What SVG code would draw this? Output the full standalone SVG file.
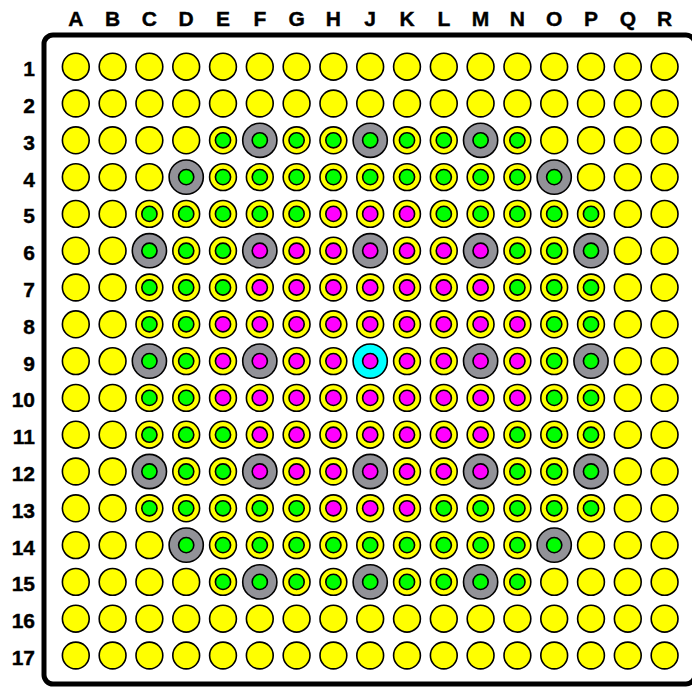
<svg xmlns="http://www.w3.org/2000/svg" xmlns:xlink="http://www.w3.org/1999/xlink" width="692" height="687" viewBox="0 0 692 687">
<style>
.lbl{font-family:"Liberation Sans",Arial,sans-serif;font-weight:bold;font-size:21px;fill:#000;stroke:#000;stroke-width:0.4}
.col{text-anchor:middle}
.row{text-anchor:end}
.ol{stroke:#000;stroke-width:1.6}
</style>
<defs>
<g id="y"><circle class="ol" r="13.4" fill="#ffff00"/></g>
<g id="g"><circle class="ol" r="13.4" fill="#ffff00"/><circle class="ol" r="7.6" fill="#00ff00"/></g>
<g id="m"><circle class="ol" r="13.4" fill="#ffff00"/><circle class="ol" r="7.6" fill="#ff00ff"/></g>
<g id="G"><circle class="ol" r="17.1" fill="#929298"/><circle class="ol" r="7.6" fill="#00ff00"/></g>
<g id="M"><circle class="ol" r="17.1" fill="#929298"/><circle class="ol" r="7.6" fill="#ff00ff"/></g>
<g id="C"><circle class="ol" r="17.1" fill="#00ffff"/><circle class="ol" r="7.6" fill="#ff00ff"/></g>
</defs>
<rect width="692" height="687" fill="#fff"/>
<rect x="44" y="35" width="651" height="649" rx="9" ry="9" fill="none" stroke="#000" stroke-width="5"/>
<g id="col-labels" class="lbl col">
<text x="75.8" y="26">A</text><text x="112.6" y="26">B</text><text x="149.4" y="26">C</text><text x="186.2" y="26">D</text><text x="223" y="26">E</text><text x="259.8" y="26">F</text><text x="296.6" y="26">G</text><text x="333.4" y="26">H</text><text x="370.2" y="26">J</text><text x="407" y="26">K</text><text x="443.8" y="26">L</text><text x="480.6" y="26">M</text><text x="517.4" y="26">N</text><text x="554.2" y="26">O</text><text x="591" y="26">P</text><text x="627.8" y="26">Q</text><text x="664.6" y="26">R</text>
</g>
<g id="row-labels" class="lbl row">
<text x="35" y="76.2">1</text><text x="35" y="113">2</text><text x="35" y="149.8">3</text><text x="35" y="186.6">4</text><text x="35" y="223.4">5</text><text x="35" y="260.2">6</text><text x="35" y="297">7</text><text x="35" y="333.8">8</text><text x="35" y="370.6">9</text><text x="35" y="407.4">10</text><text x="35" y="444.2">11</text><text x="35" y="481">12</text><text x="35" y="517.8">13</text><text x="35" y="554.6">14</text><text x="35" y="591.4">15</text><text x="35" y="628.2">16</text><text x="35" y="665">17</text>
</g>
<g id="connectors"/>
<g id="wells">
<g id="A1"><use href="#y" x="75.8" y="66.7"/></g><g id="B1"><use href="#y" x="112.6" y="66.7"/></g><g id="C1"><use href="#y" x="149.4" y="66.7"/></g><g id="D1"><use href="#y" x="186.2" y="66.7"/></g><g id="E1"><use href="#y" x="223" y="66.7"/></g><g id="F1"><use href="#y" x="259.8" y="66.7"/></g><g id="G1"><use href="#y" x="296.6" y="66.7"/></g><g id="H1"><use href="#y" x="333.4" y="66.7"/></g><g id="J1"><use href="#y" x="370.2" y="66.7"/></g><g id="K1"><use href="#y" x="407" y="66.7"/></g><g id="L1"><use href="#y" x="443.8" y="66.7"/></g><g id="M1"><use href="#y" x="480.6" y="66.7"/></g><g id="N1"><use href="#y" x="517.4" y="66.7"/></g><g id="O1"><use href="#y" x="554.2" y="66.7"/></g><g id="P1"><use href="#y" x="591" y="66.7"/></g><g id="Q1"><use href="#y" x="627.8" y="66.7"/></g><g id="R1"><use href="#y" x="664.6" y="66.7"/></g>
<g id="A2"><use href="#y" x="75.8" y="103.5"/></g><g id="B2"><use href="#y" x="112.6" y="103.5"/></g><g id="C2"><use href="#y" x="149.4" y="103.5"/></g><g id="D2"><use href="#y" x="186.2" y="103.5"/></g><g id="E2"><use href="#y" x="223" y="103.5"/></g><g id="F2"><use href="#y" x="259.8" y="103.5"/></g><g id="G2"><use href="#y" x="296.6" y="103.5"/></g><g id="H2"><use href="#y" x="333.4" y="103.5"/></g><g id="J2"><use href="#y" x="370.2" y="103.5"/></g><g id="K2"><use href="#y" x="407" y="103.5"/></g><g id="L2"><use href="#y" x="443.8" y="103.5"/></g><g id="M2"><use href="#y" x="480.6" y="103.5"/></g><g id="N2"><use href="#y" x="517.4" y="103.5"/></g><g id="O2"><use href="#y" x="554.2" y="103.5"/></g><g id="P2"><use href="#y" x="591" y="103.5"/></g><g id="Q2"><use href="#y" x="627.8" y="103.5"/></g><g id="R2"><use href="#y" x="664.6" y="103.5"/></g>
<g id="A3"><use href="#y" x="75.8" y="140.3"/></g><g id="B3"><use href="#y" x="112.6" y="140.3"/></g><g id="C3"><use href="#y" x="149.4" y="140.3"/></g><g id="D3"><use href="#y" x="186.2" y="140.3"/></g><g id="E3"><use href="#g" x="223" y="140.3"/></g><g id="F3"><use href="#G" x="259.8" y="140.3"/></g><g id="G3"><use href="#g" x="296.6" y="140.3"/></g><g id="H3"><use href="#g" x="333.4" y="140.3"/></g><g id="J3"><use href="#G" x="370.2" y="140.3"/></g><g id="K3"><use href="#g" x="407" y="140.3"/></g><g id="L3"><use href="#g" x="443.8" y="140.3"/></g><g id="M3"><use href="#G" x="480.6" y="140.3"/></g><g id="N3"><use href="#g" x="517.4" y="140.3"/></g><g id="O3"><use href="#y" x="554.2" y="140.3"/></g><g id="P3"><use href="#y" x="591" y="140.3"/></g><g id="Q3"><use href="#y" x="627.8" y="140.3"/></g><g id="R3"><use href="#y" x="664.6" y="140.3"/></g>
<g id="A4"><use href="#y" x="75.8" y="177.1"/></g><g id="B4"><use href="#y" x="112.6" y="177.1"/></g><g id="C4"><use href="#y" x="149.4" y="177.1"/></g><g id="D4"><use href="#G" x="186.2" y="177.1"/></g><g id="E4"><use href="#g" x="223" y="177.1"/></g><g id="F4"><use href="#g" x="259.8" y="177.1"/></g><g id="G4"><use href="#g" x="296.6" y="177.1"/></g><g id="H4"><use href="#g" x="333.4" y="177.1"/></g><g id="J4"><use href="#g" x="370.2" y="177.1"/></g><g id="K4"><use href="#g" x="407" y="177.1"/></g><g id="L4"><use href="#g" x="443.8" y="177.1"/></g><g id="M4"><use href="#g" x="480.6" y="177.1"/></g><g id="N4"><use href="#g" x="517.4" y="177.1"/></g><g id="O4"><use href="#G" x="554.2" y="177.1"/></g><g id="P4"><use href="#y" x="591" y="177.1"/></g><g id="Q4"><use href="#y" x="627.8" y="177.1"/></g><g id="R4"><use href="#y" x="664.6" y="177.1"/></g>
<g id="A5"><use href="#y" x="75.8" y="213.9"/></g><g id="B5"><use href="#y" x="112.6" y="213.9"/></g><g id="C5"><use href="#g" x="149.4" y="213.9"/></g><g id="D5"><use href="#g" x="186.2" y="213.9"/></g><g id="E5"><use href="#g" x="223" y="213.9"/></g><g id="F5"><use href="#g" x="259.8" y="213.9"/></g><g id="G5"><use href="#g" x="296.6" y="213.9"/></g><g id="H5"><use href="#m" x="333.4" y="213.9"/></g><g id="J5"><use href="#m" x="370.2" y="213.9"/></g><g id="K5"><use href="#m" x="407" y="213.9"/></g><g id="L5"><use href="#g" x="443.8" y="213.9"/></g><g id="M5"><use href="#g" x="480.6" y="213.9"/></g><g id="N5"><use href="#g" x="517.4" y="213.9"/></g><g id="O5"><use href="#g" x="554.2" y="213.9"/></g><g id="P5"><use href="#g" x="591" y="213.9"/></g><g id="Q5"><use href="#y" x="627.8" y="213.9"/></g><g id="R5"><use href="#y" x="664.6" y="213.9"/></g>
<g id="A6"><use href="#y" x="75.8" y="250.7"/></g><g id="B6"><use href="#y" x="112.6" y="250.7"/></g><g id="C6"><use href="#G" x="149.4" y="250.7"/></g><g id="D6"><use href="#g" x="186.2" y="250.7"/></g><g id="E6"><use href="#g" x="223" y="250.7"/></g><g id="F6"><use href="#M" x="259.8" y="250.7"/></g><g id="G6"><use href="#m" x="296.6" y="250.7"/></g><g id="H6"><use href="#m" x="333.4" y="250.7"/></g><g id="J6"><use href="#M" x="370.2" y="250.7"/></g><g id="K6"><use href="#m" x="407" y="250.7"/></g><g id="L6"><use href="#m" x="443.8" y="250.7"/></g><g id="M6"><use href="#M" x="480.6" y="250.7"/></g><g id="N6"><use href="#g" x="517.4" y="250.7"/></g><g id="O6"><use href="#g" x="554.2" y="250.7"/></g><g id="P6"><use href="#G" x="591" y="250.7"/></g><g id="Q6"><use href="#y" x="627.8" y="250.7"/></g><g id="R6"><use href="#y" x="664.6" y="250.7"/></g>
<g id="A7"><use href="#y" x="75.8" y="287.5"/></g><g id="B7"><use href="#y" x="112.6" y="287.5"/></g><g id="C7"><use href="#g" x="149.4" y="287.5"/></g><g id="D7"><use href="#g" x="186.2" y="287.5"/></g><g id="E7"><use href="#g" x="223" y="287.5"/></g><g id="F7"><use href="#m" x="259.8" y="287.5"/></g><g id="G7"><use href="#m" x="296.6" y="287.5"/></g><g id="H7"><use href="#m" x="333.4" y="287.5"/></g><g id="J7"><use href="#m" x="370.2" y="287.5"/></g><g id="K7"><use href="#m" x="407" y="287.5"/></g><g id="L7"><use href="#m" x="443.8" y="287.5"/></g><g id="M7"><use href="#m" x="480.6" y="287.5"/></g><g id="N7"><use href="#g" x="517.4" y="287.5"/></g><g id="O7"><use href="#g" x="554.2" y="287.5"/></g><g id="P7"><use href="#g" x="591" y="287.5"/></g><g id="Q7"><use href="#y" x="627.8" y="287.5"/></g><g id="R7"><use href="#y" x="664.6" y="287.5"/></g>
<g id="A8"><use href="#y" x="75.8" y="324.3"/></g><g id="B8"><use href="#y" x="112.6" y="324.3"/></g><g id="C8"><use href="#g" x="149.4" y="324.3"/></g><g id="D8"><use href="#g" x="186.2" y="324.3"/></g><g id="E8"><use href="#m" x="223" y="324.3"/></g><g id="F8"><use href="#m" x="259.8" y="324.3"/></g><g id="G8"><use href="#m" x="296.6" y="324.3"/></g><g id="H8"><use href="#m" x="333.4" y="324.3"/></g><g id="J8"><use href="#m" x="370.2" y="324.3"/></g><g id="K8"><use href="#m" x="407" y="324.3"/></g><g id="L8"><use href="#m" x="443.8" y="324.3"/></g><g id="M8"><use href="#m" x="480.6" y="324.3"/></g><g id="N8"><use href="#m" x="517.4" y="324.3"/></g><g id="O8"><use href="#g" x="554.2" y="324.3"/></g><g id="P8"><use href="#g" x="591" y="324.3"/></g><g id="Q8"><use href="#y" x="627.8" y="324.3"/></g><g id="R8"><use href="#y" x="664.6" y="324.3"/></g>
<g id="A9"><use href="#y" x="75.8" y="361.1"/></g><g id="B9"><use href="#y" x="112.6" y="361.1"/></g><g id="C9"><use href="#G" x="149.4" y="361.1"/></g><g id="D9"><use href="#g" x="186.2" y="361.1"/></g><g id="E9"><use href="#m" x="223" y="361.1"/></g><g id="F9"><use href="#M" x="259.8" y="361.1"/></g><g id="G9"><use href="#m" x="296.6" y="361.1"/></g><g id="H9"><use href="#m" x="333.4" y="361.1"/></g><g id="J9"><use href="#C" x="370.2" y="361.1"/></g><g id="K9"><use href="#m" x="407" y="361.1"/></g><g id="L9"><use href="#m" x="443.8" y="361.1"/></g><g id="M9"><use href="#M" x="480.6" y="361.1"/></g><g id="N9"><use href="#m" x="517.4" y="361.1"/></g><g id="O9"><use href="#g" x="554.2" y="361.1"/></g><g id="P9"><use href="#G" x="591" y="361.1"/></g><g id="Q9"><use href="#y" x="627.8" y="361.1"/></g><g id="R9"><use href="#y" x="664.6" y="361.1"/></g>
<g id="A10"><use href="#y" x="75.8" y="397.9"/></g><g id="B10"><use href="#y" x="112.6" y="397.9"/></g><g id="C10"><use href="#g" x="149.4" y="397.9"/></g><g id="D10"><use href="#g" x="186.2" y="397.9"/></g><g id="E10"><use href="#m" x="223" y="397.9"/></g><g id="F10"><use href="#m" x="259.8" y="397.9"/></g><g id="G10"><use href="#m" x="296.6" y="397.9"/></g><g id="H10"><use href="#m" x="333.4" y="397.9"/></g><g id="J10"><use href="#m" x="370.2" y="397.9"/></g><g id="K10"><use href="#m" x="407" y="397.9"/></g><g id="L10"><use href="#m" x="443.8" y="397.9"/></g><g id="M10"><use href="#m" x="480.6" y="397.9"/></g><g id="N10"><use href="#m" x="517.4" y="397.9"/></g><g id="O10"><use href="#g" x="554.2" y="397.9"/></g><g id="P10"><use href="#g" x="591" y="397.9"/></g><g id="Q10"><use href="#y" x="627.8" y="397.9"/></g><g id="R10"><use href="#y" x="664.6" y="397.9"/></g>
<g id="A11"><use href="#y" x="75.8" y="434.7"/></g><g id="B11"><use href="#y" x="112.6" y="434.7"/></g><g id="C11"><use href="#g" x="149.4" y="434.7"/></g><g id="D11"><use href="#g" x="186.2" y="434.7"/></g><g id="E11"><use href="#g" x="223" y="434.7"/></g><g id="F11"><use href="#m" x="259.8" y="434.7"/></g><g id="G11"><use href="#m" x="296.6" y="434.7"/></g><g id="H11"><use href="#m" x="333.4" y="434.7"/></g><g id="J11"><use href="#m" x="370.2" y="434.7"/></g><g id="K11"><use href="#m" x="407" y="434.7"/></g><g id="L11"><use href="#m" x="443.8" y="434.7"/></g><g id="M11"><use href="#m" x="480.6" y="434.7"/></g><g id="N11"><use href="#g" x="517.4" y="434.7"/></g><g id="O11"><use href="#g" x="554.2" y="434.7"/></g><g id="P11"><use href="#g" x="591" y="434.7"/></g><g id="Q11"><use href="#y" x="627.8" y="434.7"/></g><g id="R11"><use href="#y" x="664.6" y="434.7"/></g>
<g id="A12"><use href="#y" x="75.8" y="471.5"/></g><g id="B12"><use href="#y" x="112.6" y="471.5"/></g><g id="C12"><use href="#G" x="149.4" y="471.5"/></g><g id="D12"><use href="#g" x="186.2" y="471.5"/></g><g id="E12"><use href="#g" x="223" y="471.5"/></g><g id="F12"><use href="#M" x="259.8" y="471.5"/></g><g id="G12"><use href="#m" x="296.6" y="471.5"/></g><g id="H12"><use href="#m" x="333.4" y="471.5"/></g><g id="J12"><use href="#M" x="370.2" y="471.5"/></g><g id="K12"><use href="#m" x="407" y="471.5"/></g><g id="L12"><use href="#m" x="443.8" y="471.5"/></g><g id="M12"><use href="#M" x="480.6" y="471.5"/></g><g id="N12"><use href="#g" x="517.4" y="471.5"/></g><g id="O12"><use href="#g" x="554.2" y="471.5"/></g><g id="P12"><use href="#G" x="591" y="471.5"/></g><g id="Q12"><use href="#y" x="627.8" y="471.5"/></g><g id="R12"><use href="#y" x="664.6" y="471.5"/></g>
<g id="A13"><use href="#y" x="75.8" y="508.3"/></g><g id="B13"><use href="#y" x="112.6" y="508.3"/></g><g id="C13"><use href="#g" x="149.4" y="508.3"/></g><g id="D13"><use href="#g" x="186.2" y="508.3"/></g><g id="E13"><use href="#g" x="223" y="508.3"/></g><g id="F13"><use href="#g" x="259.8" y="508.3"/></g><g id="G13"><use href="#g" x="296.6" y="508.3"/></g><g id="H13"><use href="#m" x="333.4" y="508.3"/></g><g id="J13"><use href="#m" x="370.2" y="508.3"/></g><g id="K13"><use href="#m" x="407" y="508.3"/></g><g id="L13"><use href="#g" x="443.8" y="508.3"/></g><g id="M13"><use href="#g" x="480.6" y="508.3"/></g><g id="N13"><use href="#g" x="517.4" y="508.3"/></g><g id="O13"><use href="#g" x="554.2" y="508.3"/></g><g id="P13"><use href="#g" x="591" y="508.3"/></g><g id="Q13"><use href="#y" x="627.8" y="508.3"/></g><g id="R13"><use href="#y" x="664.6" y="508.3"/></g>
<g id="A14"><use href="#y" x="75.8" y="545.1"/></g><g id="B14"><use href="#y" x="112.6" y="545.1"/></g><g id="C14"><use href="#y" x="149.4" y="545.1"/></g><g id="D14"><use href="#G" x="186.2" y="545.1"/></g><g id="E14"><use href="#g" x="223" y="545.1"/></g><g id="F14"><use href="#g" x="259.8" y="545.1"/></g><g id="G14"><use href="#g" x="296.6" y="545.1"/></g><g id="H14"><use href="#g" x="333.4" y="545.1"/></g><g id="J14"><use href="#g" x="370.2" y="545.1"/></g><g id="K14"><use href="#g" x="407" y="545.1"/></g><g id="L14"><use href="#g" x="443.8" y="545.1"/></g><g id="M14"><use href="#g" x="480.6" y="545.1"/></g><g id="N14"><use href="#g" x="517.4" y="545.1"/></g><g id="O14"><use href="#G" x="554.2" y="545.1"/></g><g id="P14"><use href="#y" x="591" y="545.1"/></g><g id="Q14"><use href="#y" x="627.8" y="545.1"/></g><g id="R14"><use href="#y" x="664.6" y="545.1"/></g>
<g id="A15"><use href="#y" x="75.8" y="581.9"/></g><g id="B15"><use href="#y" x="112.6" y="581.9"/></g><g id="C15"><use href="#y" x="149.4" y="581.9"/></g><g id="D15"><use href="#y" x="186.2" y="581.9"/></g><g id="E15"><use href="#g" x="223" y="581.9"/></g><g id="F15"><use href="#G" x="259.8" y="581.9"/></g><g id="G15"><use href="#g" x="296.6" y="581.9"/></g><g id="H15"><use href="#g" x="333.4" y="581.9"/></g><g id="J15"><use href="#G" x="370.2" y="581.9"/></g><g id="K15"><use href="#g" x="407" y="581.9"/></g><g id="L15"><use href="#g" x="443.8" y="581.9"/></g><g id="M15"><use href="#G" x="480.6" y="581.9"/></g><g id="N15"><use href="#g" x="517.4" y="581.9"/></g><g id="O15"><use href="#y" x="554.2" y="581.9"/></g><g id="P15"><use href="#y" x="591" y="581.9"/></g><g id="Q15"><use href="#y" x="627.8" y="581.9"/></g><g id="R15"><use href="#y" x="664.6" y="581.9"/></g>
<g id="A16"><use href="#y" x="75.8" y="618.7"/></g><g id="B16"><use href="#y" x="112.6" y="618.7"/></g><g id="C16"><use href="#y" x="149.4" y="618.7"/></g><g id="D16"><use href="#y" x="186.2" y="618.7"/></g><g id="E16"><use href="#y" x="223" y="618.7"/></g><g id="F16"><use href="#y" x="259.8" y="618.7"/></g><g id="G16"><use href="#y" x="296.6" y="618.7"/></g><g id="H16"><use href="#y" x="333.4" y="618.7"/></g><g id="J16"><use href="#y" x="370.2" y="618.7"/></g><g id="K16"><use href="#y" x="407" y="618.7"/></g><g id="L16"><use href="#y" x="443.8" y="618.7"/></g><g id="M16"><use href="#y" x="480.6" y="618.7"/></g><g id="N16"><use href="#y" x="517.4" y="618.7"/></g><g id="O16"><use href="#y" x="554.2" y="618.7"/></g><g id="P16"><use href="#y" x="591" y="618.7"/></g><g id="Q16"><use href="#y" x="627.8" y="618.7"/></g><g id="R16"><use href="#y" x="664.6" y="618.7"/></g>
<g id="A17"><use href="#y" x="75.8" y="655.5"/></g><g id="B17"><use href="#y" x="112.6" y="655.5"/></g><g id="C17"><use href="#y" x="149.4" y="655.5"/></g><g id="D17"><use href="#y" x="186.2" y="655.5"/></g><g id="E17"><use href="#y" x="223" y="655.5"/></g><g id="F17"><use href="#y" x="259.8" y="655.5"/></g><g id="G17"><use href="#y" x="296.6" y="655.5"/></g><g id="H17"><use href="#y" x="333.4" y="655.5"/></g><g id="J17"><use href="#y" x="370.2" y="655.5"/></g><g id="K17"><use href="#y" x="407" y="655.5"/></g><g id="L17"><use href="#y" x="443.8" y="655.5"/></g><g id="M17"><use href="#y" x="480.6" y="655.5"/></g><g id="N17"><use href="#y" x="517.4" y="655.5"/></g><g id="O17"><use href="#y" x="554.2" y="655.5"/></g><g id="P17"><use href="#y" x="591" y="655.5"/></g><g id="Q17"><use href="#y" x="627.8" y="655.5"/></g><g id="R17"><use href="#y" x="664.6" y="655.5"/></g>
</g>
</svg>
